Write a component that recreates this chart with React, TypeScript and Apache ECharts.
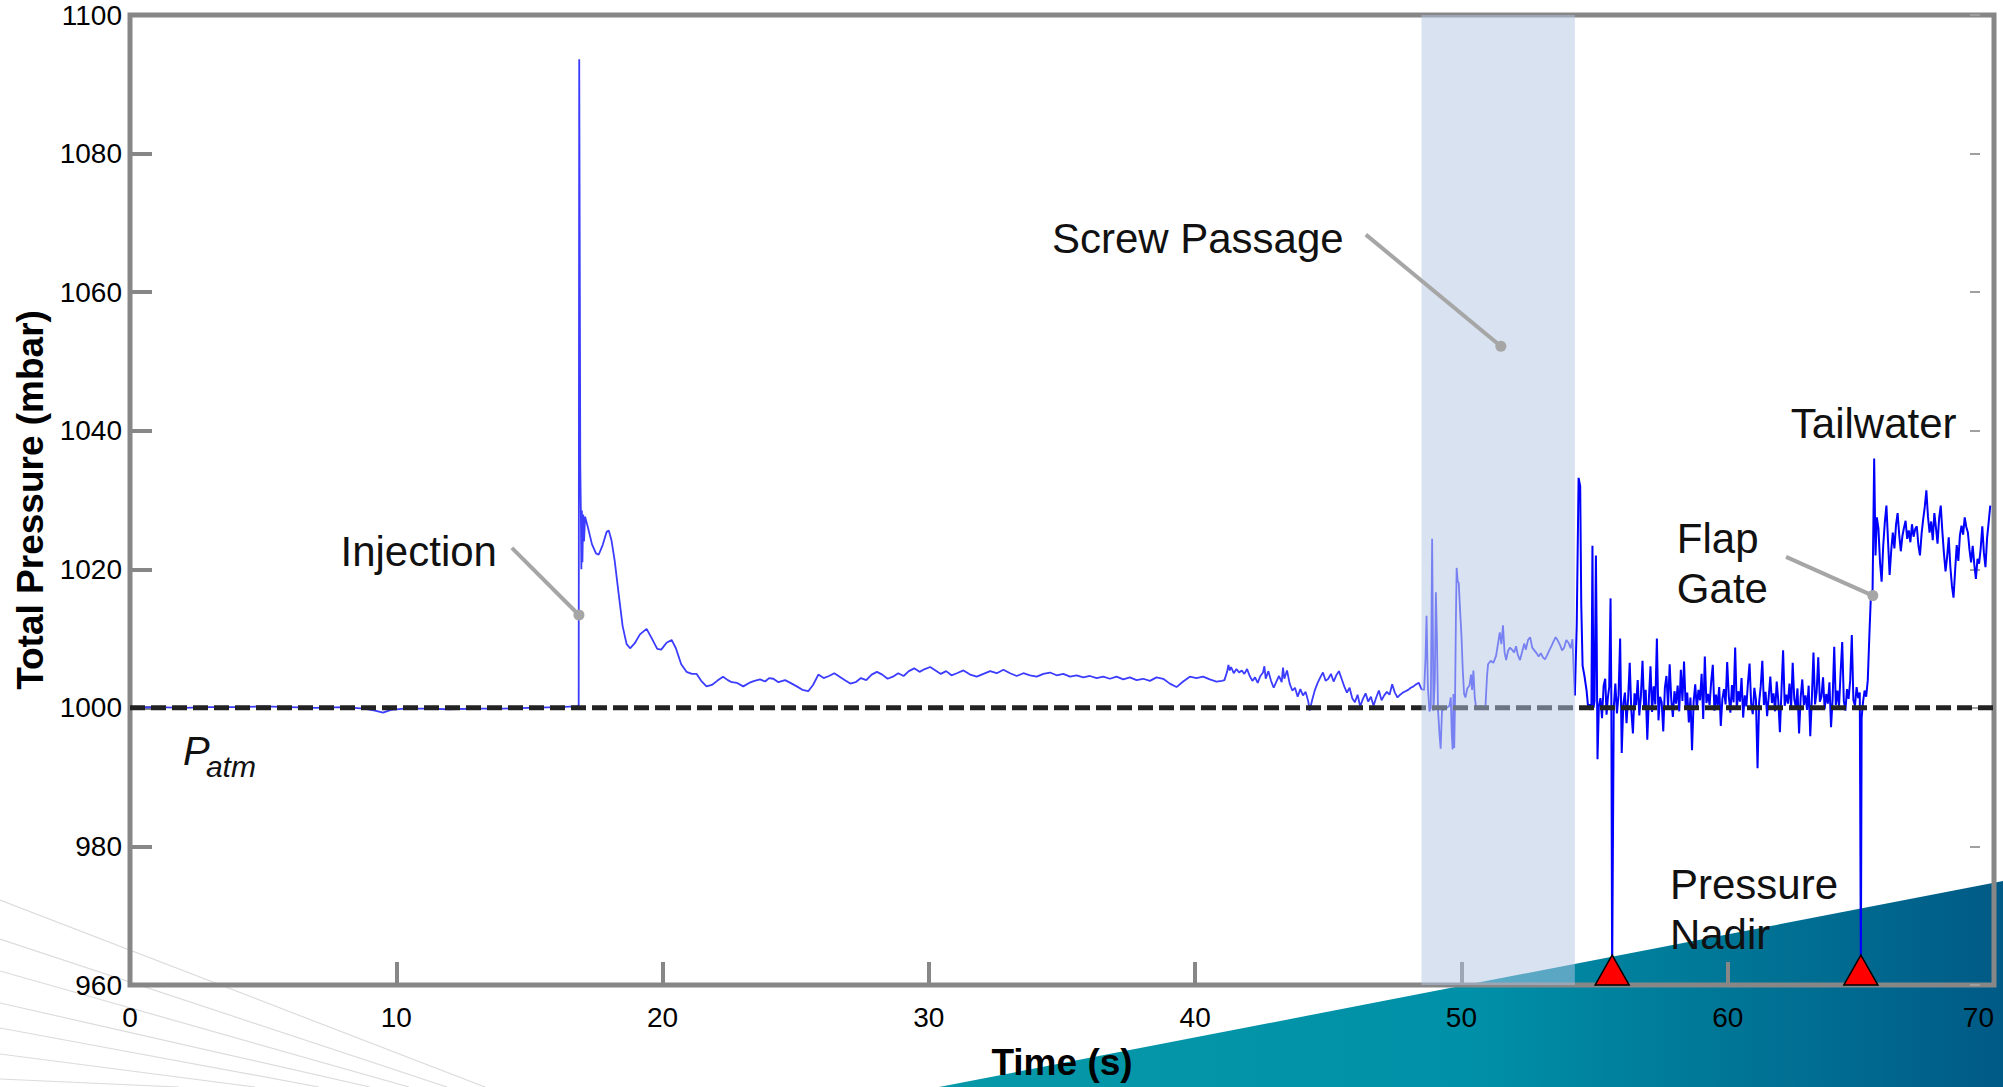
import React, { useEffect, useRef } from "react";
import * as echarts from "echarts";

const FONT = '"Liberation Sans", Arial, Helvetica, sans-serif';

// ---- data (time in s, total pressure in mbar) ----
const baselinePhase: [number, number][] = [
  [0, 1000.0], [1, 1000.1], [2, 1000.0], [3, 1000.1], [4, 1000.1], [5, 1000.2], [6, 1000.1],
  [7, 1000.0], [8, 1000.1], [8.8, 999.9], [9.2, 999.6], [9.5, 999.3], [9.8, 999.7], [10.3, 999.9],
  [11, 999.9], [12, 999.8], [13, 999.9], [14, 999.9], [15, 1000.0], [16, 1000.1], [16.8, 1000.2],
];

const injectionPhase: [number, number][] = [
  [16.85, 1000.4], [16.87, 1093.6], [16.89, 1065], [16.91, 1035], [16.93, 1028.7], [16.95, 1020],
  [16.97, 1028.5], [16.99, 1021], [17.02, 1027.9], [17.05, 1024], [17.09, 1027.6], [17.2, 1026.0],
  [17.35, 1023.6], [17.5, 1022.3], [17.6, 1022.1], [17.75, 1023.5], [17.9, 1025.4], [17.98, 1025.6],
  [18.08, 1024.2], [18.2, 1021.3], [18.35, 1016.5], [18.5, 1011.8], [18.65, 1009.2], [18.78, 1008.6],
  [18.95, 1009.3], [19.15, 1010.6], [19.4, 1011.4], [19.6, 1010.0], [19.8, 1008.5], [19.95, 1008.4],
  [20.15, 1009.4], [20.34, 1009.8], [20.5, 1008.6], [20.7, 1006.3], [20.9, 1005.2], [21.1, 1004.9],
  [21.28, 1004.9], [21.45, 1003.9], [21.65, 1003.1], [21.85, 1003.3], [22.05, 1003.9], [22.27, 1004.5],
  [22.45, 1004.0], [22.6, 1003.7], [22.8, 1003.6], [23.03, 1003.1], [23.25, 1003.6], [23.45, 1003.9],
  [23.66, 1004.1], [23.85, 1003.8], [24.0, 1004.3], [24.16, 1004.2], [24.35, 1003.7], [24.6, 1004.0],
  [24.8, 1003.6], [25.04, 1003.1], [25.25, 1002.6], [25.47, 1002.4], [25.65, 1003.3], [25.85, 1004.8],
  [26.05, 1004.3],
];

const settlingPhase: [number, number][] = [
  [26.25, 1004.6], [26.45, 1005.0], [26.65, 1004.5], [26.85, 1004.0], [27.05, 1003.5], [27.25, 1003.7],
  [27.45, 1004.3], [27.65, 1004.0], [27.85, 1004.8], [28.05, 1005.2], [28.25, 1004.8], [28.45, 1004.2],
  [28.65, 1004.5], [28.85, 1005.0], [29.05, 1004.6], [29.25, 1005.3], [29.45, 1005.7], [29.65, 1005.2],
  [29.85, 1005.6], [30.05, 1005.9], [30.25, 1005.4], [30.45, 1004.9], [30.65, 1005.3], [30.85, 1004.7],
  [31.05, 1005.0], [31.3, 1005.4], [31.55, 1004.8], [31.8, 1004.5], [32.05, 1004.9], [32.3, 1005.3],
  [32.55, 1005.0], [32.8, 1005.5], [33.05, 1005.0], [33.3, 1004.6], [33.55, 1005.0], [33.8, 1004.7],
  [34.05, 1004.5], [34.3, 1004.9], [34.55, 1005.1], [34.8, 1004.7], [35.05, 1004.9], [35.3, 1004.5],
  [35.55, 1004.7], [35.8, 1004.4], [36.05, 1004.6], [36.3, 1004.3], [36.55, 1004.5], [36.8, 1004.2],
  [37.05, 1004.5], [37.3, 1004.1], [37.55, 1004.4], [37.8, 1004.0], [38.05, 1004.2], [38.3, 1003.9],
  [38.55, 1004.4], [38.8, 1004.2], [39.05, 1003.5], [39.3, 1003.0], [39.55, 1003.8], [39.8, 1004.5],
  [40.05, 1004.3], [40.3, 1004.5], [40.55, 1004.1], [40.8, 1003.8], [41.0, 1003.9],
];

const approachPhase: [number, number][] = [
  [41.1, 1004.0], [41.2, 1005.2], [41.25, 1006.2], [41.3, 1005.4], [41.35, 1005.9], [41.45, 1005.0],
  [41.55, 1005.6], [41.65, 1005.1], [41.75, 1005.4], [41.85, 1004.9], [41.95, 1005.6], [42.05, 1004.6],
  [42.15, 1003.9], [42.25, 1004.4], [42.35, 1003.6], [42.45, 1004.6], [42.55, 1005.1], [42.6, 1006.0],
  [42.65, 1004.2], [42.75, 1005.3], [42.85, 1003.9], [42.95, 1002.9], [43.05, 1003.8], [43.15, 1004.6],
  [43.25, 1003.7], [43.3, 1005.8], [43.35, 1004.2], [43.45, 1005.4], [43.55, 1003.5], [43.65, 1002.5],
  [43.75, 1002.9], [43.85, 1001.6], [43.95, 1002.7], [44.05, 1001.8], [44.15, 1002.3], [44.25, 1000.9],
  [44.3, 999.6], [44.4, 1001.2], [44.5, 1002.6], [44.6, 1003.6], [44.7, 1004.4], [44.8, 1005.1],
  [44.9, 1003.9], [45.0, 1004.2], [45.1, 1004.9], [45.2, 1003.8], [45.3, 1004.7], [45.4, 1005.3],
  [45.5, 1004.2], [45.6, 1003.1], [45.7, 1002.2], [45.8, 1002.9], [45.9, 1001.4], [46.0, 1000.8],
  [46.1, 1001.9], [46.2, 1000.2], [46.3, 1001.3], [46.4, 1002.1], [46.5, 1000.9], [46.6, 1001.6],
  [46.7, 1000.3], [46.8, 1001.5], [46.9, 1002.5], [47.0, 1001.1], [47.1, 1001.8], [47.2, 1002.3],
  [47.3, 1001.9], [47.4, 1003.4], [47.5, 1002.2], [47.6, 1001.5], [47.7, 1001.9], [47.8, 1002.2],
  [47.9, 1002.4], [48.0, 1002.6], [48.1, 1002.9], [48.2, 1003.1], [48.3, 1003.4], [48.4, 1003.6],
  [48.5, 1002.7],
];

const screwPhase: [number, number][] = [
  [48.6, 1002.6], [48.65, 1007], [48.69, 1013.3], [48.74, 1003], [48.8, 999.5], [48.85, 1000],
  [48.9, 1024.4], [48.95, 999.6], [49.0, 1004], [49.04, 1016.7], [49.08, 1010], [49.12, 999.8],
  [49.18, 996], [49.22, 994.1], [49.27, 999.6], [49.35, 999.8], [49.45, 1000.0], [49.55, 1000.3],
  [49.6, 1001.5], [49.64, 996], [49.67, 994.0], [49.7, 1002], [49.73, 994.2], [49.76, 1001],
  [49.79, 1012], [49.82, 1020.2], [49.86, 1018.3], [49.9, 1018], [49.95, 1014], [50.0, 1010.5],
  [50.05, 1005.5], [50.1, 1002], [50.15, 1001.5], [50.22, 1002.8], [50.3, 1003.2], [50.36, 1004.8],
  [50.4, 1002.6], [50.45, 1005.4], [50.5, 1001.5], [50.55, 1000.1], [50.65, 999.8], [50.72, 1000.3],
  [50.78, 999.8], [50.84, 1000.2], [50.9, 1000], [50.96, 1004.5], [51.0, 1006.3], [51.1, 1006.8],
  [51.2, 1006.5], [51.3, 1007.5], [51.38, 1009.4], [51.44, 1010.9], [51.5, 1009.2], [51.56, 1011.9],
  [51.62, 1008.0], [51.68, 1006.9], [51.75, 1008.2], [51.82, 1008.7], [51.9, 1008.4], [51.98, 1008.0],
  [52.05, 1008.9], [52.12, 1007.6], [52.2, 1006.9], [52.28, 1008.1], [52.36, 1009.3], [52.42, 1008.4],
  [52.5, 1009.8], [52.58, 1010.2], [52.66, 1008.7], [52.74, 1008.3], [52.82, 1007.9], [52.9, 1007.4],
  [52.98, 1007.9], [53.06, 1007.3], [53.14, 1007.0], [53.22, 1007.6], [53.3, 1008.3], [53.38, 1008.9],
  [53.46, 1009.6], [53.54, 1010.2], [53.62, 1009.7], [53.7, 1009.1], [53.78, 1008.3], [53.86, 1008.7],
  [53.94, 1009.8], [54.02, 1009.4], [54.1, 1008.6], [54.17, 1009.9], [54.22, 1005.0], [54.26, 1001.8],
];

const wakePhase: [number, number][] = [
  [54.33, 1012], [54.4, 1033.2], [54.46, 1032], [54.5, 1015], [54.55, 1006.1], [54.62, 1004.6],
  [54.7, 1002.5], [54.76, 1000], [54.82, 1000.5], [54.88, 999.7], [54.92, 1023.4], [54.96, 1000],
  [55.0, 1001.0], [55.05, 1022], [55.08, 1010], [55.11, 992.6], [55.16, 1000.2], [55.22, 1001.4],
  [55.28, 998.5], [55.34, 1003.2], [55.4, 1004.2], [55.45, 999], [55.5, 1001.5], [55.55, 1003],
  [55.6, 1015.8], [55.63, 1001], [55.66, 961.5],
];

// sampled every 0.06 s from 55.72 s to 64.90 s
const gateNoiseStart = 55.72;
const sampleStep = 0.06;
const gateNoise = [
  1000.0, 1003.5, 999.2, 1001.8, 1010.0, 993.5, 1000.6, 1002.2, 997.8, 1001.4,
  1006.5, 999.6, 996.3, 1002.1, 1000.4, 1004.0, 998.9, 1001.7, 1006.8, 1000.2,
  1002.6, 995.4, 1001.3, 1006.0, 999.4, 1003.1, 1000.5, 1010.0, 998.2, 1001.6,
  1000.8, 996.6, 1002.9, 1004.6, 1000.1, 1006.3, 1001.2, 998.7, 1002.4, 1000.6,
  1003.2, 999.5, 1005.5, 1001.0, 1006.7, 1000.3, 1002.2, 997.9, 1001.5, 993.9,
  1000.9, 1003.4, 999.8, 1002.6, 1001.1, 1004.9, 998.4, 1007.4, 1000.7, 1002.0,
  1000.4, 1003.8, 1006.2, 999.6, 1001.9, 1000.2, 1003.0, 997.4, 1001.3, 1002.7,
  1000.5, 1006.6, 1001.7, 999.3, 1003.3, 1000.8, 1008.7, 999.9, 1002.4, 1000.9,
  1004.3, 998.6, 1001.8, 1000.2, 1003.6, 1006.4, 1000.6, 999.1, 1002.9, 1001.2,
  991.3, 1000.8, 1003.1, 1006.8, 1000.4, 1002.3, 998.8, 1001.6, 1004.5, 1000.7,
  1002.1, 999.5, 1003.8, 1001.0, 996.5, 1002.6, 1008.3, 1000.3, 1001.9, 1000.6,
  1003.5, 999.9, 1006.5, 1001.2, 1000.1, 1002.8, 996.3, 1001.5, 1004.1, 1000.4,
  1001.8, 999.7, 1003.2, 995.9, 1001.4, 1008.0, 1000.5, 1002.3, 1007.3, 1000.9,
  1001.6, 1004.4, 999.8, 1002.0, 1000.6, 1003.7, 997.2, 1001.3, 1008.8, 1000.4,
  1002.5, 1000.2, 1005.1, 1009.5, 1001.0, 999.6, 1002.7, 1001.3, 1004.0, 1010.5,
  1001.1, 1000.3, 1003.0, 1001.4,
];

const closingPhase: [number, number][] = [
  [64.96, 1002.2], [65.0, 961.5], [65.03, 998.6], [65.08, 1000.8], [65.14, 1002.5], [65.2, 1001.6],
  [65.26, 1004.0], [65.32, 1010.5], [65.38, 1016.5], [65.44, 1017.0], [65.5, 1036.0], [65.55, 1022.0],
];

// sampled every 0.06 s from 65.60 s to 69.86 s
const tailStart = 65.6;
const tailwaterNoise = [
  1027.5, 1025.9, 1021.0, 1018.2, 1023.4, 1026.8, 1029.2, 1024.1, 1019.2, 1022.7,
  1025.3, 1023.0, 1026.4, 1028.1, 1025.0, 1022.6, 1024.8, 1026.0, 1027.0, 1024.4,
  1025.6, 1023.9, 1026.5, 1024.7, 1025.8, 1026.2, 1023.5, 1022.0, 1025.1, 1027.2,
  1029.0, 1031.4, 1027.6, 1025.3, 1026.9, 1024.2, 1028.1, 1026.0, 1023.7, 1027.4,
  1029.2, 1025.5, 1022.3, 1019.7, 1021.8, 1024.6, 1020.4, 1017.6, 1015.9, 1019.8,
  1023.5, 1021.2, 1024.9, 1026.3, 1025.0, 1027.5, 1026.1, 1025.3, 1022.8, 1021.0,
  1023.4, 1020.7, 1018.6, 1021.5, 1020.8, 1023.0, 1026.2, 1022.4, 1020.3, 1024.5,
  1026.8, 1029.2,
];

const atmosphericPressure = 1000;
const nadirTimes = [55.66, 65.0];
const screwPassage = [48.5, 54.26];

// annotation anchors in data coordinates
const labels = [
  { text: "Injection", t: 13.78, p: 1022.5, align: "right" },
  { text: "Screw Passage", t: 34.62, p: 1067.7, align: "left" },
  { text: "Tailwater", t: 62.37, p: 1041.0, align: "left" },
  { text: "Flap\nGate", t: 58.09, p: 1020.9, align: "left" },
  { text: "Pressure\nNadir", t: 57.83, p: 970.9, align: "left" },
];
const leaders = [
  { from: [14.34, 1023.1], to: [16.86, 1013.4] },
  { from: [46.41, 1068.3], to: [51.48, 1052.2] },
  { from: [62.19, 1021.8], to: [65.45, 1016.2] },
];

function sampled(start: number, step: number, values: number[]): [number, number][] {
  return values.map((v, i) => [Number((start + i * step).toFixed(2)), v]);
}

export default function App() {
  const ref = useRef<HTMLDivElement>(null);

  useEffect(() => {
    document.documentElement.style.overflow = "hidden";
    document.body.style.margin = "0";
    document.body.style.overflow = "hidden";
    const chart = echarts.init(ref.current!, null, { renderer: "svg" });

    const beforeGate: [number, number][] = [
      ...baselinePhase,
      ...injectionPhase,
      ...settlingPhase,
      ...approachPhase,
      ...screwPhase,
    ];
    const afterScrew: [number, number][] = [
      screwPhase[screwPhase.length - 1],
      ...wakePhase,
      ...sampled(gateNoiseStart, sampleStep, gateNoise),
      ...closingPhase,
      ...sampled(tailStart, sampleStep, tailwaterNoise),
    ];

    chart.setOption({
      animation: false,
      backgroundColor: "#ffffff",
      textStyle: { fontFamily: FONT },
      grid: {
        left: 130, right: 9, top: 15, bottom: 102,
        containLabel: false, outerBoundsMode: "none",
        show: true, borderColor: "#878787", borderWidth: 5, backgroundColor: "transparent",
      },
      xAxis: [{
        type: "value", min: 0, max: 70, interval: 10,
        axisLine: { show: false },
        axisTick: { show: true, inside: true, length: 23, lineStyle: { color: "#878787", width: 4 } },
        axisLabel: {
          fontSize: 28, color: "#000", fontFamily: FONT, margin: 18,
          alignMaxLabel: "right", formatter: (v: number) => String(v),
        },
        splitLine: { show: false },
        name: "Time (s)", nameLocation: "middle", nameGap: 59,
        nameTextStyle: { fontSize: 37, fontWeight: "bold", fontFamily: FONT, color: "#000" },
      }],
      yAxis: [{
        type: "value", min: 960, max: 1100, interval: 20,
        axisLine: { show: false },
        axisTick: { show: true, inside: true, length: 22, lineStyle: { color: "#878787", width: 4 } },
        axisLabel: { fontSize: 28, color: "#000", fontFamily: FONT, margin: 8, formatter: (v: number) => String(v) },
        splitLine: { show: false },
        name: "Total Pressure (mbar)", nameLocation: "middle", nameGap: 63,
        nameTextStyle: { fontSize: 37, fontWeight: "bold", fontFamily: FONT, color: "#000" },
      }, {
        type: "value", min: 960, max: 1100, interval: 20, position: "right", offset: -14,
        axisLine: { show: false },
        axisTick: { show: true, inside: true, length: 10, lineStyle: { color: "#a0a0a0", width: 2 } },
        axisLabel: { show: false },
        splitLine: { show: false },
      }],
      series: [
        {
          type: "line", data: beforeGate, showSymbol: false, symbol: "none", z: 2,
          lineStyle: { color: "#3c3cff", width: 1.8 }, silent: true,
        },
        {
          type: "line", data: afterScrew, showSymbol: false, symbol: "none", z: 2,
          lineStyle: { color: "#0000ff", width: 2 }, silent: true,
        },
        {
          type: "line", data: [[0, atmosphericPressure], [70, atmosphericPressure]],
          showSymbol: false, symbol: "none", z: 3, silent: true,
          lineStyle: { color: "#222222", width: 5, type: [15, 6] },
        },
        {
          type: "custom", z: 4, silent: true, clip: false,
          data: [[screwPassage[0], 1100, screwPassage[1], 960]],
          encode: { x: [0, 2], y: [1, 3] },
          renderItem: (params: any, api: any) => {
            const a = api.coord([api.value(0), api.value(1)]);
            const b = api.coord([api.value(2), api.value(3)]);
            return {
              type: "rect",
              shape: { x: a[0], y: a[1], width: b[0] - a[0], height: b[1] - a[1] },
              style: { fill: "rgba(179,197,227,0.5)" },
            };
          },
        },
        {
          type: "scatter", data: nadirTimes.map((t) => [t, 960]), z: 5, silent: true,
          symbol: "triangle", symbolSize: [34, 30], symbolOffset: [0, "-50%"], clip: false,
          itemStyle: { color: "#ff0000", borderColor: "#000", borderWidth: 1.5, opacity: 1 },
        },
      ],
    });

    const W = chart.getWidth();
    const H = chart.getHeight();
    const px = (t: number, p: number) => chart.convertToPixel({ gridIndex: 0 }, [t, p]) as number[];

    const fan = [
      [900, 485], [939, 447], [971, 409], [1003, 370], [1028, 319], [1054, 255], [1079, 179],
    ];

    const graphics: any[] = [];
    fan.forEach(([y0, x1]) => {
      graphics.push({
        type: "line", z: -20, silent: true,
        shape: { x1: 0, y1: y0, x2: x1, y2: H },
        style: { stroke: "#dcdcdc", lineWidth: 1.2 },
      });
    });
    graphics.push({
      type: "polygon", z: -10, silent: true,
      shape: { points: [[W - 1064, H], [W, H - 206], [W, H]] },
      style: {
        fill: {
          type: "linear", x: 0, y: 0, x2: 1, y2: 0,
          colorStops: [
            { offset: 0, color: "#0799a8" },
            { offset: 0.5, color: "#0090a8" },
            { offset: 0.75, color: "#007596" },
            { offset: 1, color: "#005a86" },
          ],
        },
      },
    });
    labels.forEach((l) => {
      const [x, y] = px(l.t, l.p);
      graphics.push({
        type: "text", x, y, z: 100, silent: true,
        style: {
          text: l.text, fontSize: 42, fontFamily: FONT, fill: "#111",
          align: l.align, textAlign: l.align, verticalAlign: "middle", textVerticalAlign: "middle",
          lineHeight: 50,
        },
      });
    });
    leaders.forEach((ld) => {
      const [x1, y1] = px(ld.from[0], ld.from[1]);
      const [x2, y2] = px(ld.to[0], ld.to[1]);
      graphics.push({
        type: "line", z: 100, silent: true,
        shape: { x1, y1, x2, y2 },
        style: { stroke: "#a6a6a6", lineWidth: 4 },
      });
      graphics.push({
        type: "circle", z: 101, silent: true,
        shape: { cx: x2, cy: y2, r: 5.5 },
        style: { fill: "#a6a6a6" },
      });
    });
    const [pX, pY] = px(1.99, 993.8);
    const [sX, sY] = px(2.85, 991.5);
    graphics.push({
      type: "text", x: pX, y: pY, z: 100, silent: true,
      style: { text: "P", fontSize: 40, fontStyle: "italic", fontFamily: FONT, fill: "#111",
        align: "left", textAlign: "left", verticalAlign: "middle", textVerticalAlign: "middle" },
    });
    graphics.push({
      type: "text", x: sX, y: sY, z: 100, silent: true,
      style: { text: "atm", fontSize: 30, fontStyle: "italic", fontFamily: FONT, fill: "#111",
        align: "left", textAlign: "left", verticalAlign: "middle", textVerticalAlign: "middle" },
    });

    chart.setOption({ graphic: graphics });

    return () => chart.dispose();
  }, []);

  return (
    <div
      ref={ref}
      style={{ position: "fixed", left: 0, top: 0, right: 0, bottom: 0 }}
    />
  );
}
